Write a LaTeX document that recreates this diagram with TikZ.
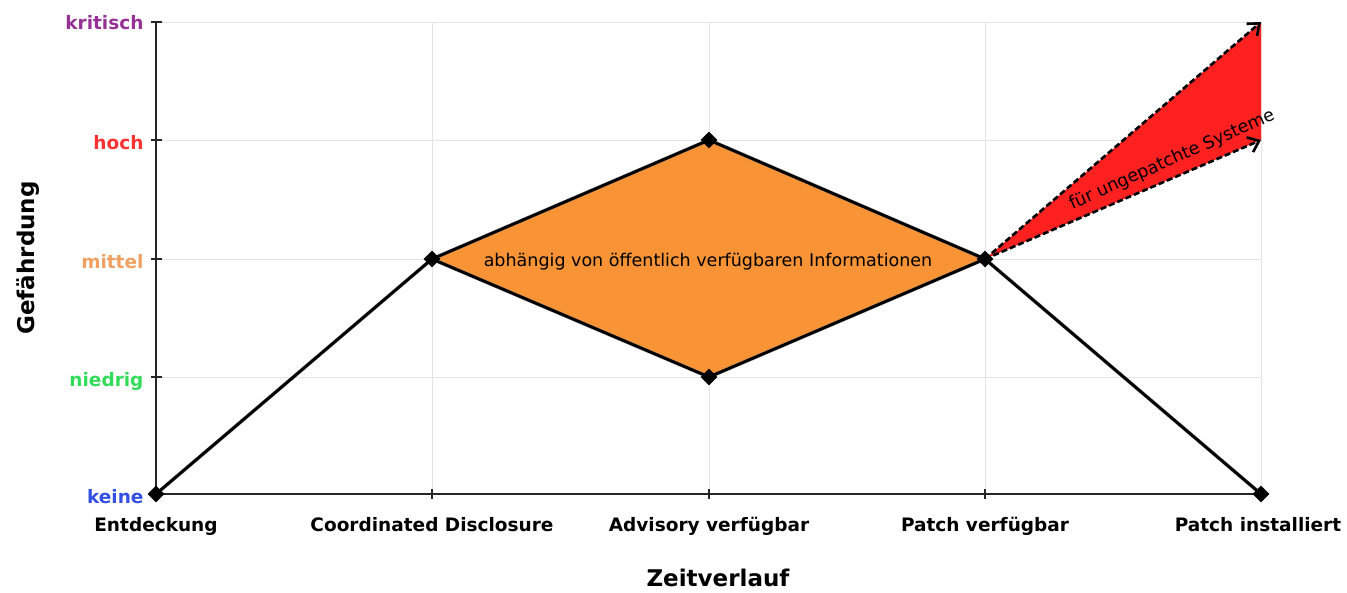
\documentclass[tikz,border=0pt]{standalone}
\usepackage{fontspec}
\setmainfont{DejaVu Sans}
\usetikzlibrary{shapes.geometric,arrows.meta}
\definecolor{gridgray}{RGB}{228,228,228}
\definecolor{lvcrit}{RGB}{150,50,150}
\definecolor{lvhigh}{RGB}{250,50,50}
\definecolor{lvmid}{RGB}{240,160,96}
\definecolor{lvlow}{RGB}{50,220,90}
\definecolor{lvnone}{RGB}{50,80,230}
\definecolor{diamondfill}{RGB}{248,148,54}
\definecolor{riskred}{RGB}{255,32,32}
\tikzset{
  grid line/.style={draw=gridgray,line width=1},
  axis line/.style={draw=black!85,line width=1.6},
  marker/.style={diamond,fill=black,inner sep=0pt,minimum size=17},
  level/.style={anchor=base east,font=\fontsize{18.5}{20}\selectfont\bfseries},
  phase/.style={anchor=base,font=\fontsize{18.5}{20}\selectfont\bfseries},
  axis title/.style={font=\fontsize{23}{25}\selectfont\bfseries},
  curve/.style={draw=black,line width=3,line join=round},
  shade line/.style={draw=black!45,opacity=0.45,line width=4,line join=round},
  open path/.style={draw=black,line width=2.6,dashed,dash pattern=on 6 off 3,
     -{Straight Barb[length=10,width=16,line width=2.6]}},
}
\begin{document}
\begin{tikzpicture}[x=1pt,y=-1pt]
\useasboundingbox (0,0) rectangle (1347,592);

% background grid
\foreach \yy in {22,140,259,377}
  \draw[grid line] (156,\yy) -- (1261,\yy);
\foreach \xx in {432,709,985,1261}
  \draw[grid line] (\xx,22) -- (\xx,494);

% axes with ticks
\draw[axis line] (156,22) -- (156,494) -- (1261,494);
\foreach \yy in {22,140,259,377}
  \draw[axis line] (151,\yy) -- (162,\yy);
\foreach \xx in {432,709,985}
  \draw[axis line] (\xx,489) -- (\xx,499);

% level labels
\node[level,text=lvcrit] (lcrit) at (147,29) {kritisch};
\node[level,text=lvhigh] (lhigh) at (147,149) {hoch};
\node[level,text=lvmid]  (lmid)  at (147,268) {mittel};
\node[level,text=lvlow]  (llow)  at (147,386) {niedrig};
\node[level,text=lvnone] (lnone) at (147,503) {keine};

% phase labels
\node[phase] (tE)  at (156,531) {Entdeckung};
\node[phase] (tCD) at (432,531) {Coordinated Disclosure};
\node[phase] (tAV) at (709,531) {Advisory verfügbar};
\node[phase] (tPV) at (985,531) {Patch verfügbar};
\node[phase] (tPI) at (1258,531) {Patch installiert};

% axis titles
\node[axis title] (xt) at (718,578) {Zeitverlauf};
\node[axis title,rotate=90] (yt) at (28,258) {Gefährdung};

% points of the risk curve
\coordinate (E)   at (156,494);
\coordinate (CD)  at (432,259);
\coordinate (AVh) at (709,140);
\coordinate (AVl) at (709,377);
\coordinate (PV)  at (985,259);
\coordinate (PI)  at (1261,494);
\coordinate (Ucrit) at (1261,22);
\coordinate (Uhigh) at (1261,140);

% unpatched systems: red wedge
\fill[riskred] (PV) -- (Ucrit) -- (Uhigh) -- cycle;
\draw[open path,draw=black!40,opacity=0.45,shift={(2,4)}] (PV) -- (Ucrit);
\draw[open path,draw=black!40,opacity=0.45,shift={(2,4)}] (PV) -- (Uhigh);
\draw[open path] (PV) -- (Ucrit);
\draw[open path] (PV) -- (Uhigh);
\node[rotate=24,font=\fontsize{17.5}{19}\selectfont] (unp) at (1172,160) {für ungepatchte Systeme};

% dependent range: orange diamond
\fill[diamondfill] (CD) -- (AVh) -- (PV) -- (AVl) -- cycle;

% drop shadow of the curve
\begin{scope}[shift={(2,4)}]
\draw[shade line] (E) -- (CD) -- (AVh) -- (PV) -- (PI);
\draw[shade line] (CD) -- (AVl) -- (PV);
\end{scope}

% risk curve
\draw[curve] (E) -- (CD) -- (AVh) -- (PV) -- (PI);
\draw[curve] (CD) -- (AVl) -- (PV);

\node[font=\fontsize{17.5}{19}\selectfont] (dep) at (708,262) {abhängig von öffentlich verfügbaren Informationen};

% markers
\foreach \p in {E,CD,AVh,AVl,PV,PI}
  \node[marker] (m\p) at (\p) {};
\end{tikzpicture}
\end{document}
